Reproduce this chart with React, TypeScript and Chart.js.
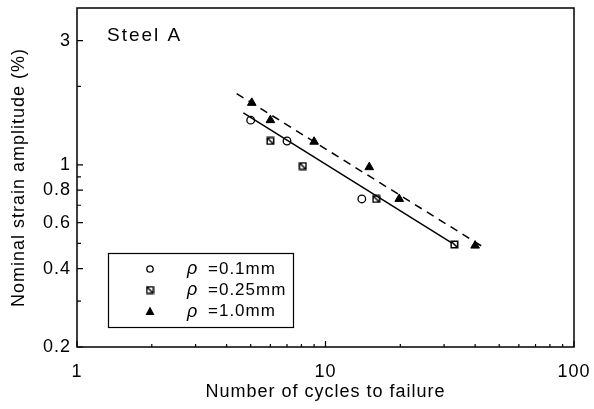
import React, { useEffect, useRef } from 'react';
import { Chart, registerables } from 'chart.js';

Chart.register(...registerables);

const FONT = '"Liberation Sans", Arial, Helvetica, sans-serif';

const xTickValues = [1, 10, 100];
const xTickLabels = ['1', '10', '100'];
const yTickValues = [0.2, 0.4, 0.6, 0.8, 1, 3];
const yTickLabels = ['0.2', '0.4', '0.6', '0.8', '1', '3'];
const xMinorTicks = [2, 3, 4, 5, 6, 7, 8, 9, 20, 30, 40, 50, 60, 70, 80, 90];
const yMinorTicks = [0.3, 0.5, 0.7, 0.9, 2];

// rho = 0.1 mm (open circles)
const cycles01 = [5.0, 7.0, 14.0];
const strain01 = [1.485, 1.235, 0.74];
// rho = 0.25 mm (squares)
const cycles025 = [6.0, 8.1, 16.0, 33.0];
const strain025 = [1.235, 0.99, 0.74, 0.495];
// rho = 1.0 mm (filled triangles)
const cycles10 = [5.05, 6.0, 9.0, 15.0, 19.8, 40.0];
const strain10 = [1.73, 1.485, 1.227, 0.98, 0.74, 0.49];
// fit lines
const fitSolidCycles = [4.67, 32.2];
const fitSolidStrain = [1.584, 0.502];
const fitDashCycles = [4.39, 42.5];
const fitDashStrain = [1.878, 0.488];

const legendLabels = ['=0.1mm', '=0.25mm', '=1.0mm'];
const panelLabel = 'Steel A';

const zip = (xs: number[], ys: number[]) => xs.map((x, i) => ({ x, y: ys[i] }));

function makeSquare(): HTMLCanvasElement {
  const c = document.createElement('canvas');
  c.width = 9;
  c.height = 9;
  const g = c.getContext('2d')!;
  g.fillStyle = '#000';
  g.fillRect(0.5, 0.5, 8, 8);
  g.fillStyle = '#fff';
  g.fillRect(2, 2, 5, 5);
  g.strokeStyle = '#000';
  g.lineWidth = 1.5;
  g.beginPath();
  g.moveTo(2, 2);
  g.lineTo(7, 7);
  g.stroke();
  return c;
}

export default function App() {
  const ref = useRef<HTMLCanvasElement | null>(null);

  useEffect(() => {
    if (!ref.current) return;
    const square = makeSquare();

    const spacingPlugin = {
      id: 'spacing',
      beforeLayout(chart: any) {
        (chart.ctx as any).letterSpacing = '1px';
      },
      beforeDraw(chart: any) {
        (chart.ctx as any).letterSpacing = '1px';
      },
    };

    const decorPlugin = {
      id: 'decor',
      afterDraw(chart: any) {
        const ctx = chart.ctx as CanvasRenderingContext2D;
        const { left, right, top, bottom } = chart.chartArea;
        const xs = chart.scales.x;
        const ys = chart.scales.y;
        ctx.save();
        ctx.strokeStyle = '#000';
        ctx.lineWidth = 1.5;
        ctx.strokeRect(left, top, right - left, bottom - top);
        ctx.lineWidth = 1.2;
        ctx.beginPath();
        xTickValues.forEach((v) => {
          const px = xs.getPixelForValue(v);
          ctx.moveTo(px, bottom);
          ctx.lineTo(px, bottom - 6);
        });
        xMinorTicks.forEach((v) => {
          const px = xs.getPixelForValue(v);
          ctx.moveTo(px, bottom);
          ctx.lineTo(px, bottom - 3);
        });
        yTickValues.forEach((v) => {
          const py = ys.getPixelForValue(v);
          ctx.moveTo(left, py);
          ctx.lineTo(left + 6, py);
        });
        yMinorTicks.forEach((v) => {
          const py = ys.getPixelForValue(v);
          ctx.moveTo(left, py);
          ctx.lineTo(left + 4, py);
        });
        ctx.stroke();

        // panel label
        (ctx as any).letterSpacing = '2px';
        ctx.fillStyle = '#000';
        ctx.font = `19px ${FONT}`;
        ctx.textAlign = 'left';
        ctx.textBaseline = 'middle';
        ctx.fillText(panelLabel, 107, 36);

        // legend box
        ctx.lineWidth = 1.2;
        ctx.strokeRect(108.5, 253.5, 185, 74);
        const rows = [269, 290, 311.5];
        const mx = 150;
        // circle
        ctx.beginPath();
        ctx.arc(mx, rows[0], 3.2, 0, Math.PI * 2);
        ctx.fillStyle = '#fff';
        ctx.fill();
        ctx.lineWidth = 1.3;
        ctx.stroke();
        // square
        ctx.drawImage(square, mx - 4.5, rows[1] - 4.5);
        // triangle
        ctx.fillStyle = '#000';
        ctx.beginPath();
        ctx.moveTo(mx, rows[2] - 5);
        ctx.lineTo(mx + 4.5, rows[2] + 3.5);
        ctx.lineTo(mx - 4.5, rows[2] + 3.5);
        ctx.closePath();
        ctx.fill();
        // texts
        (ctx as any).letterSpacing = '1px';
        rows.forEach((ry, i) => {
          ctx.font = `italic 18px ${FONT}`;
          ctx.fillText('ρ', 187, ry);
          ctx.font = `17px ${FONT}`;
          ctx.fillText(legendLabels[i], 208, ry);
        });
        ctx.restore();
      },
    };

    const chart = new Chart(ref.current, {
      type: 'scatter',
      data: {
        datasets: [
          {
            label: 'fit 0.1-0.25',
            data: zip(fitSolidCycles, fitSolidStrain),
            showLine: true,
            borderColor: '#000',
            borderWidth: 1.5,
            pointRadius: 0,
            fill: false,
          },
          {
            label: 'fit 1.0',
            data: zip(fitDashCycles, fitDashStrain),
            showLine: true,
            borderColor: '#000',
            borderWidth: 1.5,
            borderDash: [8, 6],
            pointRadius: 0,
            fill: false,
          },
          {
            label: 'ρ =0.1mm',
            data: zip(cycles01, strain01),
            pointStyle: 'circle',
            pointRadius: 3.8,
            borderColor: '#000',
            backgroundColor: '#fff',
            borderWidth: 1.3,
          },
          {
            label: 'ρ =0.25mm',
            data: zip(cycles025, strain025),
            pointStyle: square as any,
            pointRadius: 4.5,
          },
          {
            label: 'ρ =1.0mm',
            data: zip(cycles10, strain10),
            pointStyle: 'triangle',
            pointRadius: 5,
            borderColor: '#000',
            backgroundColor: '#000',
            borderWidth: 1,
          },
        ],
      },
      options: {
        animation: false,
        responsive: false,
        maintainAspectRatio: false,
        layout: { padding: { top: 8, right: 20, left: 0, bottom: 0 } },
        plugins: { legend: { display: false }, tooltip: { enabled: false } },
        scales: {
          x: {
            type: 'logarithmic',
            min: 1,
            max: 100,
            afterBuildTicks: (s: any) => {
              s.ticks = xTickValues.map((v) => ({ value: v }));
            },
            afterFit: (s: any) => {
              s.height = 62;
              s.paddingLeft = 0;
              s.paddingRight = 0;
            },
            ticks: {
              callback: (_v: any, i: number) => xTickLabels[i],
              font: { family: FONT, size: 18 },
              color: '#000',
              padding: 14,
              maxRotation: 0,
              autoSkip: false,
            },
            grid: { display: false, drawTicks: false },
            border: { display: false },
            title: {
              display: true,
              text: 'Number of cycles to failure',
              font: { family: FONT, size: 18 },
              color: '#000',
              padding: { top: 6, bottom: 6 },
            },
          },
          y: {
            type: 'logarithmic',
            min: 0.2,
            max: 4,
            afterBuildTicks: (s: any) => {
              s.ticks = yTickValues.map((v) => ({ value: v }));
            },
            afterFit: (s: any) => {
              s.width = 77;
              s.paddingTop = 0;
              s.paddingBottom = 0;
            },
            ticks: {
              callback: (_v: any, i: number) => yTickLabels[i],
              font: { family: FONT, size: 18 },
              color: '#000',
              padding: 6,
              autoSkip: false,
            },
            grid: { display: false, drawTicks: false },
            border: { display: false },
            title: {
              display: true,
              text: 'Nominal strain amplitude (%)',
              font: { family: FONT, size: 18 },
              color: '#000',
              padding: { top: 8, bottom: 8 },
            },
          },
        },
      } as any,
      plugins: [spacingPlugin, decorPlugin],
    });
    return () => chart.destroy();
  }, []);

  return (
    <div style={{ position: 'absolute', left: 0, top: 0, width: 594, height: 409, background: '#fff' }}>
      <canvas ref={ref} width={594} height={409} style={{ display: 'block' }} />
    </div>
  );
}
